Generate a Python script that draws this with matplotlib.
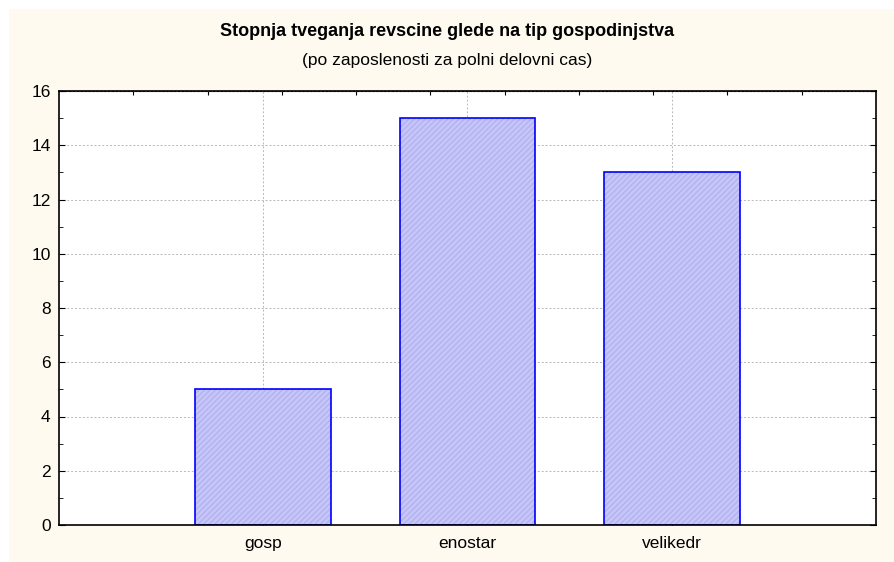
import matplotlib
matplotlib.use("Agg")
import matplotlib.pyplot as plt
from matplotlib.patches import Rectangle
from matplotlib.ticker import MultipleLocator

categories = ["gosp", "enostar", "velikedr"]
values = [5, 15, 13]
title = "Stopnja tveganja revscine glede na tip gospodinjstva"
subtitle = "(po zaposlenosti za polni delovni cas)"

plt.rcParams['font.family'] = ['Liberation Sans', 'DejaVu Sans']
W, H = 895, 562
fig = plt.figure(figsize=(W / 100, H / 100), dpi=100, facecolor='white')
fig.patches.append(Rectangle((9 / W, 0), 1 - 9 / W, 1 - 9 / H, transform=fig.transFigure,
                             facecolor='#fffaf0', edgecolor='none', zorder=-10))

left, right, top, bottom = 59, 876, 91, 525
ax = fig.add_axes([left / W, 1 - bottom / H, (right - left) / W, (bottom - top) / H])
ax.set_facecolor('white')

x = [1, 2, 3]
ax.bar(x, values, width=0.665, color='#c6c6f8', edgecolor='#b2b2f2', hatch='//////',
       linewidth=0, zorder=2)
ax.bar(x, values, width=0.665, fill=False, edgecolor='#0000ff', linewidth=1.2, zorder=3)

ax.set_xlim(0, 4)
ax.set_ylim(0, 16)
ax.set_xticks(x)
ax.set_xticklabels(categories)
ax.yaxis.set_major_locator(MultipleLocator(2))
ax.yaxis.set_minor_locator(MultipleLocator(1))
ax.tick_params(axis='both', which='both', direction='in', labelsize=12.5, color='black')
ax.tick_params(axis='y', which='major', length=4, right=True, pad=6)
ax.tick_params(axis='y', which='minor', length=3, right=True)
ax.tick_params(axis='x', which='major', length=3, pad=8)
ax.grid(True, which='major', linestyle=(0, (2, 2)), color='#b8b8b8', linewidth=0.7, zorder=0)
ax.set_axisbelow(True)
for s in ax.spines.values():
    s.set_linewidth(1.2)
    s.set_zorder(5)

top_ax = ax.secondary_xaxis('top')
top_ax.set_xticks([4 * k / 11 for k in range(1, 11)])
top_ax.tick_params(axis='x', direction='in', length=3, labeltop=False)
top_ax.set_xticklabels([])

fig.text(0.5, 1 - 31 / H, title, ha='center', va='center', fontsize=13, fontweight='bold')
fig.text(0.5, 1 - 61 / H, subtitle, ha='center', va='center', fontsize=12.5)

fig.savefig('out.png', dpi=100, facecolor=fig.get_facecolor())
